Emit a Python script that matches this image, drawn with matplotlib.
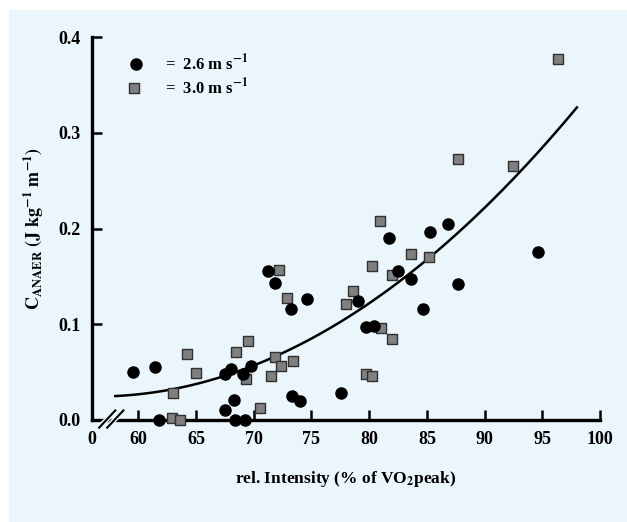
import matplotlib
matplotlib.use("Agg")
import matplotlib.pyplot as plt
import matplotlib.patches as mpatches
import numpy as np

plt.rcParams["font.family"] = "Liberation Serif"
plt.rcParams["font.weight"] = "bold"
plt.rcParams["mathtext.fontset"] = "stix"

BG = "#eaf5fc"

# 2.6 m/s runs (circles)
int_26 = [59.5, 61.4, 61.8, 67.5, 67.5, 68.0, 68.3, 68.4, 69.2, 69.1, 69.8,
          71.2, 71.8, 73.2, 73.3, 74.0, 74.6, 77.6, 79.0, 79.7, 80.4, 81.7,
          82.5, 83.6, 84.7, 85.3, 86.8, 87.7, 94.6]
c_26 = [0.050, 0.055, 0.000, 0.010, 0.048, 0.053, 0.021, 0.000, 0.000, 0.048,
        0.056, 0.156, 0.143, 0.116, 0.025, 0.020, 0.126, 0.028, 0.124, 0.097,
        0.098, 0.190, 0.156, 0.147, 0.116, 0.196, 0.205, 0.142, 0.175]

# 3.0 m/s runs (squares)
int_30 = [62.9, 63.6, 63.0, 64.2, 65.0, 68.5, 69.5, 69.3, 70.5, 72.2, 72.9,
          71.5, 71.8, 72.4, 73.4, 78.0, 78.6, 79.7, 80.2, 80.2, 80.9, 81.0,
          82.0, 82.0, 83.6, 85.2, 87.7, 92.5, 96.4]
c_30 = [0.002, 0.000, 0.028, 0.069, 0.049, 0.071, 0.083, 0.043, 0.013, 0.157,
        0.127, 0.046, 0.066, 0.056, 0.062, 0.121, 0.135, 0.048, 0.046, 0.161,
        0.208, 0.096, 0.151, 0.085, 0.173, 0.170, 0.273, 0.265, 0.377]

# regression curve c = a + b*(x-58) + k*(x-58)^2, drawn from 58 to 98 %
fit_a, fit_b, fit_k = 0.025, 0.000577, 0.000174
fit_range = (58.0, 98.0)

x_left = 55.98
xticks = [x_left, 60, 65, 70, 75, 80, 85, 90, 95, 100]
xtick_labels = ["0", "60", "65", "70", "75", "80", "85", "90", "95", "100"]
yticks = [0.0, 0.1, 0.2, 0.3, 0.4]

fig = plt.figure(figsize=(6.27, 5.22), dpi=100, facecolor="white")
fig.patches.append(mpatches.Rectangle((9 / 627, 0), 1, 512 / 522,
                                      transform=fig.transFigure,
                                      facecolor=BG, edgecolor="none", zorder=-1))
ax = fig.add_axes([92 / 627, 102 / 522, 508 / 627, 383 / 522])
ax.set_facecolor(BG)
ax.patch.set_alpha(0)

xs = np.linspace(fit_range[0], fit_range[1], 200)
u = xs - fit_range[0]
ax.plot(xs, fit_a + fit_b * u + fit_k * u ** 2, color="black", lw=1.8, zorder=2)

ax.scatter(int_30, c_30, marker="s", s=50, facecolor="#808080",
           edgecolor="#303030", linewidth=1.0, zorder=3, clip_on=False)
ax.scatter(int_26, c_26, marker="o", s=64, facecolor="black",
           edgecolor="black", zorder=4, clip_on=False)

ax.set_xlim(x_left, 100)
ax.set_ylim(0, 0.4)
for s in ["top", "right"]:
    ax.spines[s].set_visible(False)
for s in ["left", "bottom"]:
    ax.spines[s].set_linewidth(2.4)

ax.set_xticks(xticks)
ax.set_xticklabels(xtick_labels)
ax.set_yticks(yticks)
ax.set_yticklabels(["0.0", "0.1", "0.2", "0.3", "0.4"])
ax.tick_params(direction="in", length=7, width=1.8, labelsize=13, pad=8)
ax.xaxis.get_major_ticks()[0].tick1line.set_visible(False)

# axis break marks
for dx in (0.0, 0.7):
    ax.plot([56.7 + dx, 57.9 + dx], [-0.006, 0.008], color=BG, lw=3.5,
            clip_on=False, zorder=5, solid_capstyle="butt")
    ax.plot([56.6 + dx, 58.0 + dx], [-0.008, 0.010], color="black", lw=1.5,
            clip_on=False, zorder=6)

ax.set_xlabel("rel. Intensity (% of VO$_\\mathbf{2}$peak)", fontsize=12.5,
              fontweight="bold", labelpad=15)
ax.set_ylabel(r"$\mathbf{C_{ANAER}\ (J\ kg^{-1}\ m^{-1})}$", fontsize=13,
              labelpad=9)

# legend drawn by hand like the original
ax.scatter([59.8], [0.372], marker="o", s=64, color="black")
ax.scatter([59.6], [0.347], marker="s", s=45, facecolor="#808080",
           edgecolor="#303030")
ax.text(62.3, 0.372, r"=  2.6 m s$^{\mathbf{-1}}$", fontsize=12,
        fontweight="bold", va="center")
ax.text(62.3, 0.347, r"=  3.0 m s$^{\mathbf{-1}}$", fontsize=12,
        fontweight="bold", va="center")

fig.savefig("out.png", dpi=100, facecolor="white")
